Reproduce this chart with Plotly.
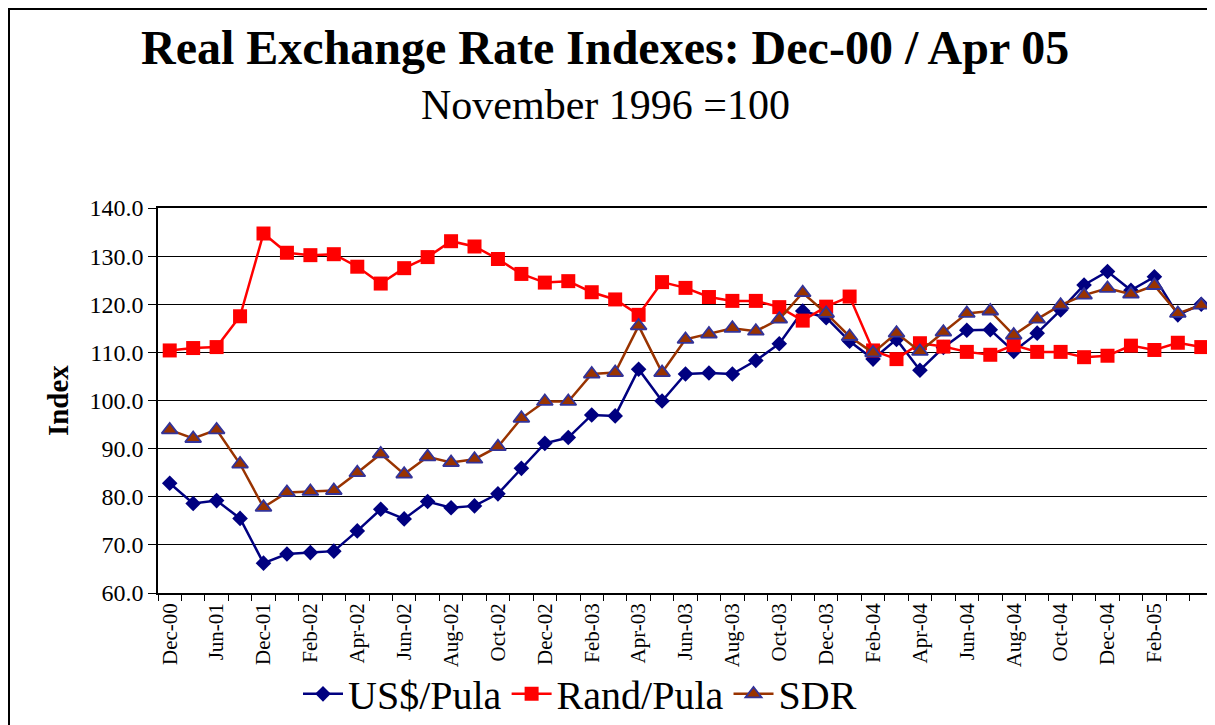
import plotly.graph_objects as go

dates = ["Dec-00", "Mar-01", "Jun-01", "Sep-01", "Dec-01",
         "Jan-02", "Feb-02", "Mar-02", "Apr-02", "May-02", "Jun-02", "Jul-02", "Aug-02", "Sep-02", "Oct-02", "Nov-02", "Dec-02",
         "Jan-03", "Feb-03", "Mar-03", "Apr-03", "May-03", "Jun-03", "Jul-03", "Aug-03", "Sep-03", "Oct-03", "Nov-03", "Dec-03",
         "Jan-04", "Feb-04", "Mar-04", "Apr-04", "May-04", "Jun-04", "Jul-04", "Aug-04", "Sep-04", "Oct-04", "Nov-04", "Dec-04",
         "Jan-05", "Feb-05", "Mar-05", "Apr-05"]

usd_pula = [82.8, 78.6, 79.2, 75.5, 66.2,
            68.1, 68.4, 68.7, 72.9, 77.4, 75.4, 79.0, 77.7, 78.1, 80.6, 85.9, 91.1,
            92.3, 97.0, 96.8, 106.5, 99.9, 105.5, 105.7, 105.5, 108.3, 111.8, 118.6, 117.2,
            112.3, 108.6, 112.7, 106.3, 111.0, 114.6, 114.7, 110.2, 114.0, 118.8, 124.0, 126.8,
            122.9, 125.7, 117.8, 120.0]

rand_pula = [110.4, 110.9, 111.1, 117.5, 134.7,
             130.7, 130.2, 130.4, 127.8, 124.3, 127.5, 129.8, 133.1, 132.0, 129.4, 126.3, 124.5,
             124.8, 122.5, 121.0, 117.8, 124.6, 123.4, 121.5, 120.7, 120.7, 119.4, 116.6, 119.5,
             121.6, 110.4, 108.6, 111.9, 111.2, 110.1, 109.5, 111.5, 110.1, 110.1, 109.0, 109.3,
             111.4, 110.5, 112.0, 111.1]

sdr = [93.9, 92.1, 93.9, 86.8, 77.8,
       80.9, 81.1, 81.3, 85.0, 88.9, 84.7, 88.3, 87.1, 87.8, 90.4, 96.3, 99.8,
       99.8, 105.5, 105.8, 115.5, 105.8, 112.7, 113.8, 115.0, 114.4, 116.9, 122.4, 118.1,
       113.3, 109.9, 114.0, 110.2, 114.2, 118.1, 118.6, 113.6, 116.9, 119.8, 121.9, 123.3,
       122.1, 123.9, 118.1, 119.8]

tick_text = [d if i % 2 == 0 and i < 43 else "" for i, d in enumerate(dates)]

FONT = "Liberation Serif"

fig = go.Figure()
fig.add_trace(go.Scatter(
    x=dates, y=usd_pula, name="US$/Pula", mode="lines+markers",
    line=dict(color="#000080", width=2.5),
    marker=dict(symbol="diamond", size=12, color="#000080"),
))
fig.add_trace(go.Scatter(
    x=dates, y=rand_pula, name="Rand/Pula", mode="lines+markers",
    line=dict(color="#FF0000", width=2.5),
    marker=dict(symbol="square", size=14, color="#FF0000"),
))
fig.add_trace(go.Scatter(
    x=dates, y=sdr, name="SDR", mode="lines+markers",
    line=dict(color="#993300", width=2.5),
    marker=dict(symbol="triangle-up", size=14, color="#993300",
                line=dict(color="#333399", width=1.8)),
))

fig.update_layout(
    width=1207, height=717,
    margin=dict(l=150, r=2, t=200, b=132, autoexpand=False),
    paper_bgcolor="white", plot_bgcolor="white",
    font=dict(family=FONT, color="black"),
    showlegend=True,
    legend=dict(orientation="h", x=0.40, xanchor="center", y=-0.262, yanchor="middle",
                font=dict(family=FONT, size=40, color="black"),
                bgcolor="rgba(0,0,0,0)",
                itemwidth=40, tracegroupgap=0),
    xaxis=dict(
        type="category", categoryorder="array", categoryarray=dates,
        range=[-0.5, len(dates) - 0.5],
        tickmode="array", tickvals=dates, ticktext=tick_text,
        tickson="boundaries", ticks="outside", ticklen=6, tickcolor="black",
        tickangle=-90, tickfont=dict(family=FONT, size=21, color="black"),
        showgrid=False, showline=True, linecolor="black", linewidth=1.5, mirror=True,
        zeroline=False, automargin=False,
    ),
    yaxis=dict(
        range=[60, 140], dtick=10, tick0=60, tickformat=".1f",
        ticks="outside", ticklen=8, tickcolor="black",
        tickfont=dict(family=FONT, size=24, color="black"),
        showgrid=True, gridcolor="black", gridwidth=1,
        showline=True, linecolor="black", linewidth=1.5, mirror=True,
        zeroline=False, automargin=False,
    ),
    annotations=[
        dict(text="<b>Real Exchange Rate Indexes: Dec-00 / Apr 05</b>", xref="paper", yref="paper",
             x=0.4238, y=1.4156, xanchor="center", yanchor="middle", showarrow=False,
             font=dict(family=FONT, size=48, color="black")),
        dict(text="November 1996 =100", xref="paper", yref="paper",
             x=0.4238, y=1.2675, xanchor="center", yanchor="middle", showarrow=False,
             font=dict(family=FONT, size=42, color="black")),
        dict(text="<b>Index</b>", xref="paper", yref="paper", textangle=-90,
             x=-0.0948, y=0.501, xanchor="center", yanchor="middle", showarrow=False,
             font=dict(family=FONT, size=29, color="black")),
    ],
    shapes=[
        dict(type="rect", xref="paper", yref="paper",
             x0=(1.0 - 150) / 1055, x1=1.05, y0=-0.5, y1=(585 - 1.0) / 385,
             line=dict(color="black", width=2), fillcolor="rgba(0,0,0,0)", layer="below"),
    ],
)

fig.write_html("out.html")
